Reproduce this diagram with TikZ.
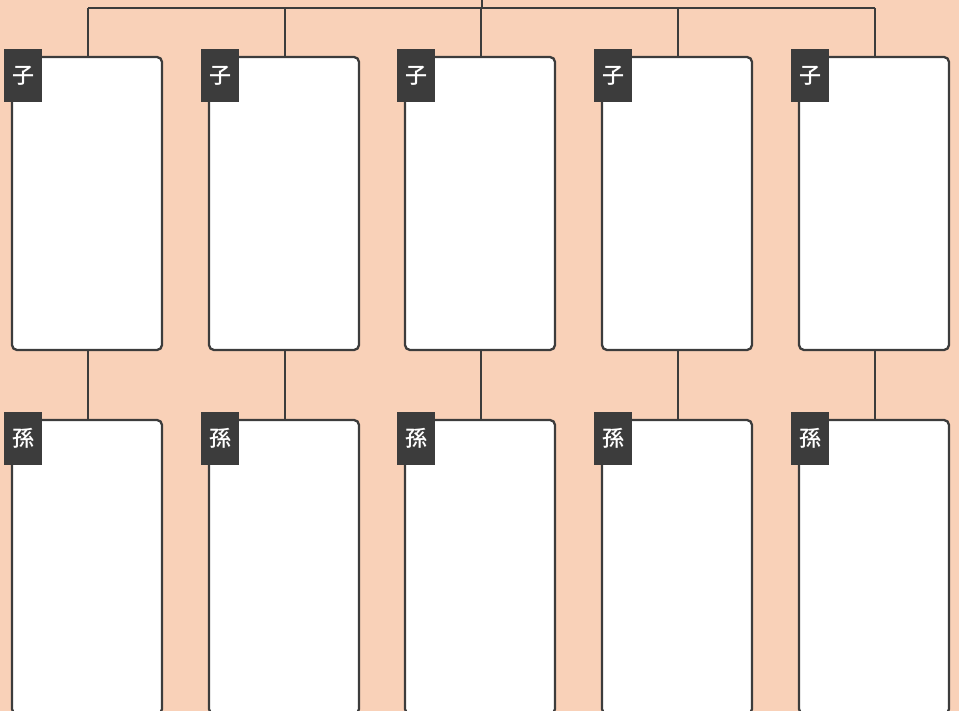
\documentclass[tikz,border=0pt]{standalone}
\usepackage{fontspec}
\newfontfamily\cjk{Noto Sans CJK JP Medium}
\definecolor{bg}{HTML}{F9D1B8}
\definecolor{ink}{HTML}{3C3C3C}
\begin{document}
\begin{tikzpicture}[x=1pt,y=-1pt,
  card/.style={draw=ink,line width=2.3pt,fill=white,rounded corners=5pt},
  tag/.style={fill=ink,text=white,font=\cjk\fontsize{22}{22}\selectfont,inner sep=0pt,minimum width=38pt,minimum height=53pt,anchor=north west},
  link/.style={draw=ink,line width=2pt}]
\fill[bg] (0,0) rectangle (959,711);
\useasboundingbox (0,0) rectangle (959,711);
\coordinate (top) at (482,-2);
\coordinate (bar) at (482,8);
\foreach \i/\x in {1/12,2/209,3/405,4/602,5/799}{
  \path[card] (\x,57) rectangle (\x+150,350);
  \path[card] (\x,420) rectangle (\x+150,714);
  \coordinate (c\i t) at (\x+76,57);
  \coordinate (c\i b) at (\x+76,350);
  \coordinate (g\i t) at (\x+76,420);
  \coordinate (b\i) at (\x+76,8);
  \node[tag] (child\i) at (\x-8,49) {\raisebox{-1.5pt}{子}};
  \node[tag] (grand\i) at (\x-8,412) {\raisebox{-1.5pt}{孫}};
}
\draw[link] (top) -- (bar);
\draw[link] (b1) -- (b5);
\foreach \i in {1,...,5}{
  \draw[link] (b\i) -- (c\i t);
  \draw[link] (c\i b) -- (g\i t);
}
\end{tikzpicture}
\end{document}
